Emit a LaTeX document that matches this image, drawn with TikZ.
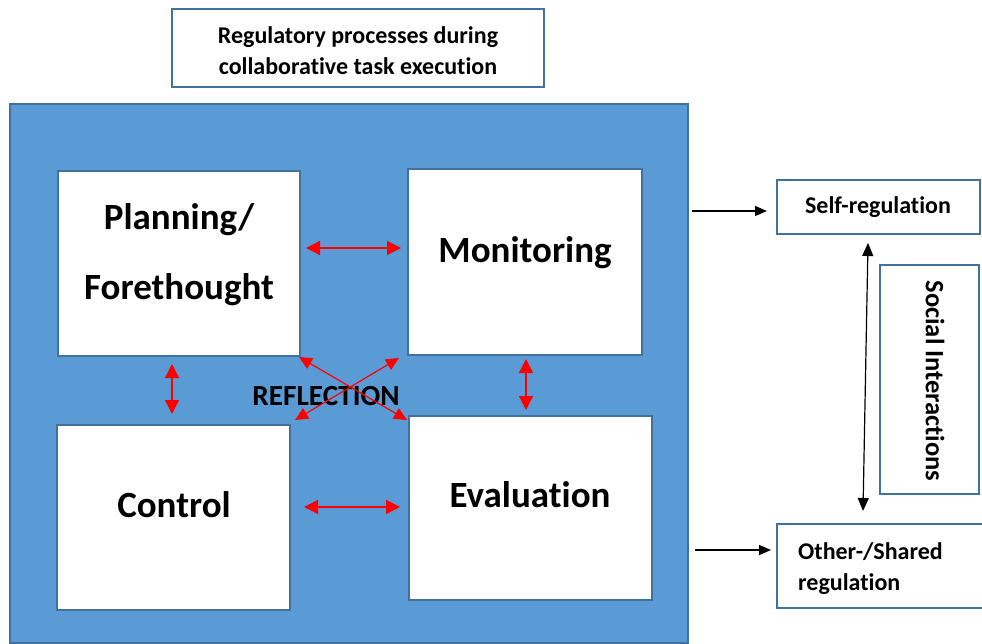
\documentclass[tikz,border=0pt]{standalone}
\usepackage{fontspec}
\setmainfont{Carlito}[Ligatures=NoCommon]
\usetikzlibrary{arrows.meta}
\definecolor{bluefill}{HTML}{5B9BD5}
\definecolor{blueline}{HTML}{41719C}
\begin{document}
\begin{tikzpicture}[x=1pt,y=-1pt,
  box/.style={draw=blueline,line width=2pt,fill=white,inner sep=0pt},
  bigbox/.style={draw=blueline,line width=2.5pt,fill=bluefill,inner sep=0pt},
  bigtext/.style={font=\bfseries\fontsize{37}{70}\selectfont,inner sep=0pt,align=center,anchor=base},
  smalltext/.style={font=\bfseries\fontsize{24}{31}\selectfont,inner sep=0pt,anchor=base},
  redarr/.style={red,line width=1.3pt,{Triangle[length=14pt,width=14pt]}-{Triangle[length=14pt,width=14pt]}},
  redx/.style={red,line width=1.2pt,{Triangle[length=13pt,width=12pt]}-{Triangle[length=13pt,width=12pt]}},
  blackarr/.style={black,line width=1.2pt,-{Triangle[length=12pt,width=10pt]}},
  blackdbl/.style={black,line width=1.2pt,{Triangle[length=13pt,width=11pt]}-{Triangle[length=13pt,width=11pt]}}
]
\useasboundingbox (0,0) rectangle (982,644);
\fill[white] (0,0) rectangle (982,644);

% title
\node[box,minimum width=372pt,minimum height=78pt] (title) at (358,48) {};
\node[smalltext,align=center] (titletext) at (358,75) {Regulatory processes during\\collaborative task execution};

% big blue area
\node[bigbox,minimum width=678pt,minimum height=539pt] (big) at (349,373.5) {};

% four process boxes
\node[box,minimum width=242pt,minimum height=185pt] (plan) at (179,263.5) {};
\node[box,minimum width=234pt,minimum height=186pt] (mon) at (525,262) {};
\node[box,minimum width=233pt,minimum height=185pt] (ctrl) at (173.5,517.5) {};
\node[box,minimum width=243pt,minimum height=184pt] (eval) at (530.5,508) {};

\node[bigtext] (plantext) at (179,299) {Planning/\\Forethought};
\node[bigtext] (montext) at (525,262) {Monitoring};
\node[bigtext] (ctrltext) at (174,517) {Control};
\node[bigtext] (evaltext) at (530,507) {Evaluation};
\node[font=\bfseries\fontsize{29.2}{30}\selectfont,inner sep=0pt,anchor=base] (refl) at (326,405) {REFLECTION};

% red arrows
\draw[redarr] ([shift={(5,-15.5)}]plan.east) -- ([shift={(-6,-14)}]mon.west);
\draw[redarr] ([shift={(13,-10.5)}]ctrl.east) -- ([shift={(-8,-1)}]eval.west);
\draw[redarr] ([shift={(-7,7)}]plan.south) -- ([shift={(-1.5,-10)}]ctrl.north);
\draw[redarr] ([shift={(1,3)}]mon.south) -- ([shift={(-4.5,-5)}]eval.north);
\draw[redx] ([shift={(-2,0)}]plan.south east) -- ([shift={(-1,5)}]eval.north west);
\draw[redx] ([shift={(4,-4)}]ctrl.north east) -- ([shift={(-8,2)}]mon.south west);

% right side
\node[box,minimum width=203pt,minimum height=54pt] (self) at (878.5,207) {};
\node[smalltext] (selftext) at (878,214) {Self-regulation};
\node[box,minimum width=99pt,minimum height=229pt] (social) at (929.5,379.5) {};
\node[font=\bfseries\fontsize{26.5}{30}\selectfont,inner sep=0pt,rotate=-90] (socialtext) at (935,381) {Social Interactions};
\node[box,minimum width=223pt,minimum height=84pt] (other) at (888.5,566) {};
\node[smalltext,align=left,anchor=base west] (othertext) at (798,590) {Other-/Shared\\regulation};

\coordinate (s1) at (692,211);
\coordinate (s2) at (695,550);
\draw[blackarr] (s1) -- ([shift={(-9,4)}]self.west);
\draw[blackarr] (s2) -- ([shift={(-5,-16)}]other.west);
\draw[blackdbl] ([shift={(-10.5,8)}]self.south) -- ([shift={(-25.5,-12)}]other.north);
\end{tikzpicture}
\end{document}
